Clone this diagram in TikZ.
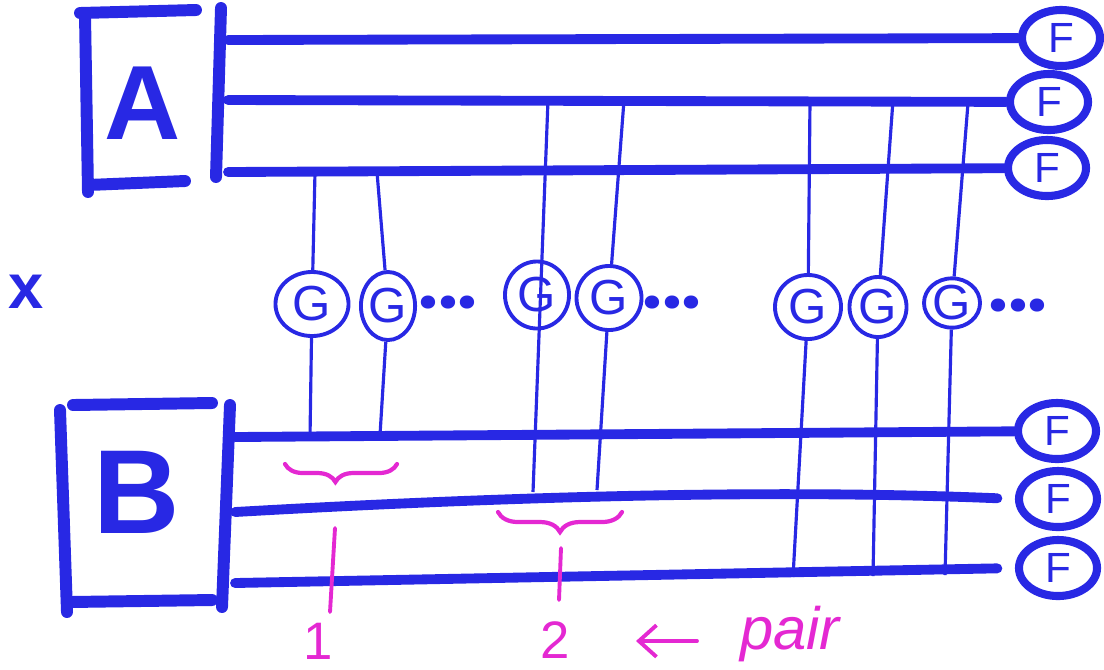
\documentclass[tikz,border=0pt]{standalone}
\usepackage{fontspec}
\setmainfont{Liberation Sans}
\newfontfamily\dotfont{Poppins}
\usetikzlibrary{shapes.geometric,decorations.pathreplacing,arrows.meta}
\definecolor{handblue}{RGB}{40,40,228}
\definecolor{handpink}{RGB}{228,40,210}
\begin{document}
\begin{tikzpicture}[x=0.01cm,y=-0.01cm,
  stroke/.style={handblue,line width=3.4pt,line cap=round},
  wire/.style={handblue,line width=2.8pt,line cap=round},
  link/.style={handblue,line width=0.9pt},
  fnode/.style={ellipse,draw=handblue,line width=2.3pt,minimum width=0.78cm,minimum height=0.56cm,inner sep=0pt,text=handblue,font=\fontsize{12}{12}\selectfont},
  gnode/.style={ellipse,draw=handblue,line width=1.1pt,inner sep=0pt,text=handblue,font=\fontsize{14}{14}\selectfont},
  dots/.style={text=handblue,font=\dotfont\bfseries\fontsize{20}{20}\selectfont,inner sep=0pt},
  letter/.style={text=handblue,inner sep=0pt},
  pinkline/.style={handpink,line width=1.1pt,line cap=round},
  pinkbrace/.style={handpink,line width=1.2pt,line cap=round,decorate},
  pinktext/.style={text=handpink,inner sep=0pt}
]
\useasboundingbox (0,0) rectangle (1104,669);

% box A
\draw[stroke] (85,15) -- (88,192);
\draw[stroke] (80,13) -- (196,10);
\draw[stroke] (88,185) -- (185,181);
\draw[stroke] (221,8) -- (216,177);
\node[letter,font=\bfseries\fontsize{30}{30}\selectfont] (A) at (143,103) {A};

% box B
\draw[stroke] (60,410) -- (67,612);
\draw[stroke] (73,405) -- (212,403);
\draw[stroke] (70,602) -- (212,600);
\draw[stroke] (230,405) -- (222,607);
\node[letter,font=\bfseries\fontsize{34}{34}\selectfont] (B) at (137,492) {B};

% x mark
\node[letter,font=\bfseries\fontsize{18}{18}\selectfont] (x) at (26,292) {x};

% F nodes
\node[fnode] (F1) at (1061,38) {F};
\node[fnode] (F2) at (1049,102) {F};
\node[fnode] (F3) at (1047,168) {F};
\node[fnode] (F4) at (1057,431) {F};
\node[fnode] (F5) at (1058,499) {F};
\node[fnode] (F6) at (1058,568) {F};

% wire starts
\coordinate (a1) at (228,40);
\coordinate (a2) at (228,100);
\coordinate (a3) at (228,172);
\coordinate (b1) at (235,437);
\coordinate (b2) at (235,512);
\coordinate (b3) at (235,583);

\draw[wire] (a1) -- (F1);
\draw[wire] (a2) -- (F2);
\draw[wire] (a3) -- (F3);
\draw[wire] (b1) -- (F4);
\draw[wire,shorten >=5pt] (b2) .. controls (550,494) and (800,490) .. (F5.west);
\draw[wire,shorten >=5pt] (b3) -- (F6.west);

% G nodes
\node[gnode,minimum width=0.73cm,minimum height=0.64cm] (G1) at (312,304) {G};
\node[gnode,minimum width=0.50cm,minimum height=0.68cm] (G2) at (388,306) {G};
\node[gnode,minimum width=0.64cm,minimum height=0.67cm] (G3) at (537,295) {G};
\node[gnode,minimum width=0.65cm,minimum height=0.64cm] (G4) at (609,298) {G};
\node[gnode,minimum width=0.66cm,minimum height=0.64cm] (G5) at (808,307) {G};
\node[gnode,minimum width=0.57cm,minimum height=0.60cm] (G6) at (878,307) {G};
\node[gnode,minimum width=0.56cm,minimum height=0.48cm] (G7) at (952,303) {G};

\node[dots] (d1) at (448,303) {...};
\node[dots] (d2) at (672,303) {...};
\node[dots] (d3) at (1018,306) {...};

% vertical links
\coordinate (t1) at (315,172); \coordinate (u1) at (310,437);
\coordinate (t2) at (377,172); \coordinate (u2) at (380,435);
\coordinate (t3) at (548,100); \coordinate (u3) at (533,492);
\coordinate (t4) at (624,100); \coordinate (u4) at (597,490);
\coordinate (t5) at (810,100); \coordinate (u5) at (793,577);
\coordinate (t6) at (893,100); \coordinate (u6) at (873,576);
\coordinate (t7) at (968,103); \coordinate (u7) at (945,575);

\draw[link] (t1) -- (G1) -- (u1);
\draw[link] (t2) -- (G2) -- (u2);
\draw[link] (t3) -- (u3);
\draw[link] (t4) -- (G4) -- (u4);
\draw[link] (t5) -- (G5) -- (u5);
\draw[link] (t6) -- (G6) -- (u6);
\draw[link] (t7) -- (G7) -- (u7);

% pink annotations
\draw[pinkbrace,decoration={brace,amplitude=0.18cm,aspect=0.55}] (397,464) -- (285,464);
\draw[pinkbrace,decoration={brace,amplitude=0.2cm,aspect=0.5}] (622,512) -- (498,512);
\node[pinktext,font=\fontsize{15}{15}\selectfont] (n1) at (318,641) {1};
\node[pinktext,font=\fontsize{15}{15}\selectfont] (n2) at (555,640) {2};
\node[pinktext,font=\itshape\fontsize{17}{17}\selectfont] (pair) at (790,634) {pair};
\coordinate (p1a) at (335,528); \coordinate (p1b) at (330,612);
\coordinate (p2a) at (561,548); \coordinate (p2b) at (559,600);
\draw[pinkline] (p1a) -- (p1b);
\draw[pinkline] (p2a) -- (p2b);
\coordinate (arrS) at (697,641);
\coordinate (arrE) at (636,641);
\draw[pinkline,-{Straight Barb[length=5pt,width=9pt]}] (arrS) -- (arrE);
\end{tikzpicture}
\end{document}
